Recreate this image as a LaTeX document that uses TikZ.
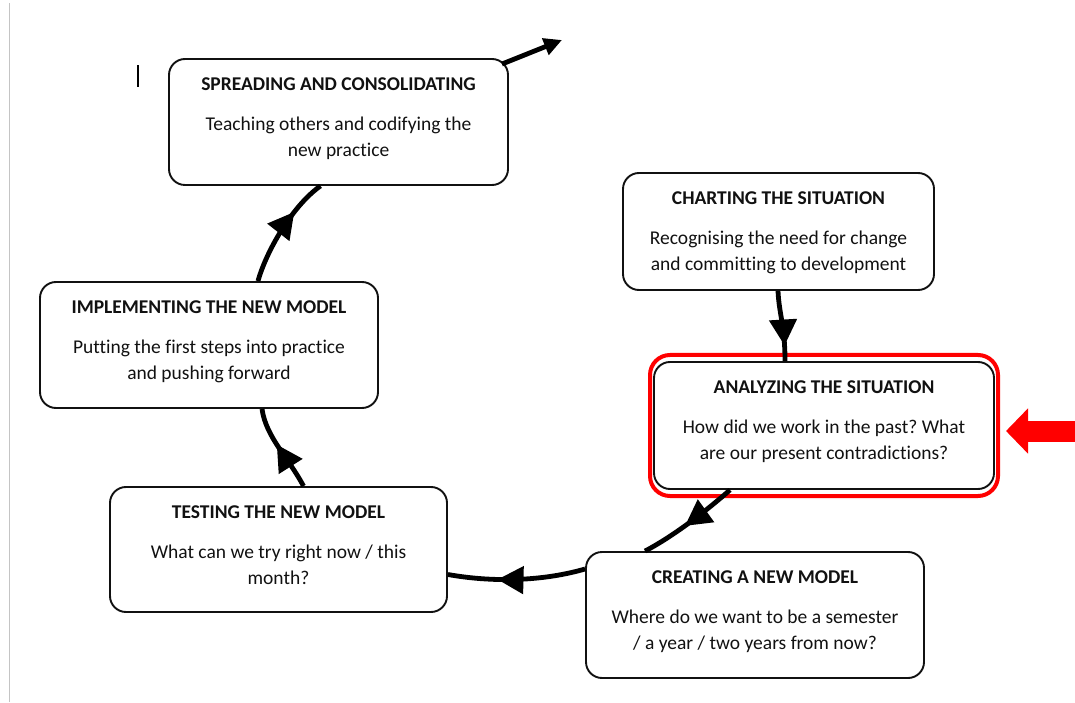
\documentclass[tikz,border=0pt]{standalone}
\usepackage{fontspec}
\setmainfont{Carlito}[Ligatures={NoCommon}]
\usetikzlibrary{arrows.meta,decorations.markings}
\definecolor{ink}{HTML}{111111}
\definecolor{hilite}{HTML}{FF0000}
\definecolor{margin}{HTML}{C4C4C4}
\frenchspacing
\tikzset{
  stage/.style={draw=ink, line width=1.9pt, rounded corners=16pt, fill=white, inner sep=0pt},
  stagetext/.style={anchor=north, inner sep=0pt, align=center, text=ink,
    font=\fontsize{19.5}{26}\selectfont},
  flow/.style={line width=4.8pt, draw=black,
    decoration={markings, mark=at position #1 with {\arrow{Triangle[length=26pt,width=27pt]}}},
    postaction=decorate},
  outflow/.style={line width=4.8pt, draw=black, -{Triangle[length=18pt,width=17pt]}},
  focus/.style={draw=hilite, line width=4pt, rounded corners=20pt, inner sep=0pt},
  pointer/.style={draw=hilite, line width=21pt, -{Triangle[length=22pt,width=44pt]}}
}
\newcommand{\stagecontent}[3]{{\bfseries\strut #1}\\[14pt]#2\\#3}
\begin{document}
\begin{tikzpicture}[x=1pt,y=1pt]
\useasboundingbox (0,0) rectangle (1075,702);
\fill[white] (0,0) rectangle (1075,702);

% page edge and text cursor
\draw[margin, line width=1pt] (9.5,0) -- (9.5,699);
\draw[black, line width=1.3pt] (138,615) -- (138,637);

% highlight frame around the current stage
\node[focus, minimum width=348pt, minimum height=141pt] (hl) at (824,276.5) {};

% stage boxes
\node[stage, minimum width=339pt, minimum height=126pt] (spread) at (338.5,580) {};
\node[stage, minimum width=311pt, minimum height=117pt] (chart) at (778.5,470.5) {};
\node[stage, minimum width=340pt, minimum height=127pt] (analyze) at (824,276.5) {};
\node[stage, minimum width=338pt, minimum height=126pt] (implement) at (209,357) {};
\node[stage, minimum width=337pt, minimum height=125pt] (test) at (278.5,152.5) {};
\node[stage, minimum width=338pt, minimum height=126pt] (create) at (755,87) {};

% stage texts
\node[stagetext] (spread-t) at ([yshift=-14.3pt]spread.north)
  {\stagecontent{SPREADING AND CONSOLIDATING}{Teaching others and codifying the}{new practice}};
\node[stagetext] (chart-t) at ([yshift=-14.3pt]chart.north)
  {\stagecontent{CHARTING THE SITUATION}{Recognising the need for change}{and committing to development}};
\node[stagetext] (analyze-t) at ([yshift=-14.3pt]analyze.north)
  {\stagecontent{ANALYZING THE SITUATION}{How did we work in the past? What}{are our present contradictions?}};
\node[stagetext] (implement-t) at ([yshift=-14.3pt]implement.north)
  {\stagecontent{IMPLEMENTING THE NEW MODEL}{Putting the first steps into practice}{and pushing forward}};
\node[stagetext] (test-t) at ([yshift=-14.3pt]test.north)
  {\stagecontent{TESTING THE NEW MODEL}{What can we try right now / this}{month?}};
\node[stagetext] (create-t) at ([yshift=-14.3pt]create.north)
  {\stagecontent{CREATING A NEW MODEL}{Where do we want to be a semester}{/ a year / two years from now?}};

% cycle connectors
\draw[flow=0.78] ([xshift=-0.5pt]chart.south) .. controls (779,388) and (785,376) .. ([xshift=-39pt]analyze.north);
\draw[flow=0.55] ([xshift=-94pt]analyze.south) .. controls (705,190) and (672,165) .. ([xshift=-110pt]create.north);
\draw[flow=0.64] ([yshift=46pt]create.west) .. controls (540,120) and (490,120) .. ([yshift=-25pt]test.east);
\draw[flow=0.56] ([xshift=25pt]test.north) .. controls (288,245) and (266,265) .. ([xshift=53pt]implement.south);
\draw[flow=0.68] ([xshift=49pt]implement.north) .. controls (266,450) and (292,496) .. ([xshift=-18pt]spread.south);
\draw[outflow] ([xshift=-7pt,yshift=-6pt]spread.north east) -- (562,662);

% pointer to the current stage
\draw[pointer] (1075,271) -- ([xshift=6pt,yshift=-5.5pt]hl.east);
\end{tikzpicture}
\end{document}
